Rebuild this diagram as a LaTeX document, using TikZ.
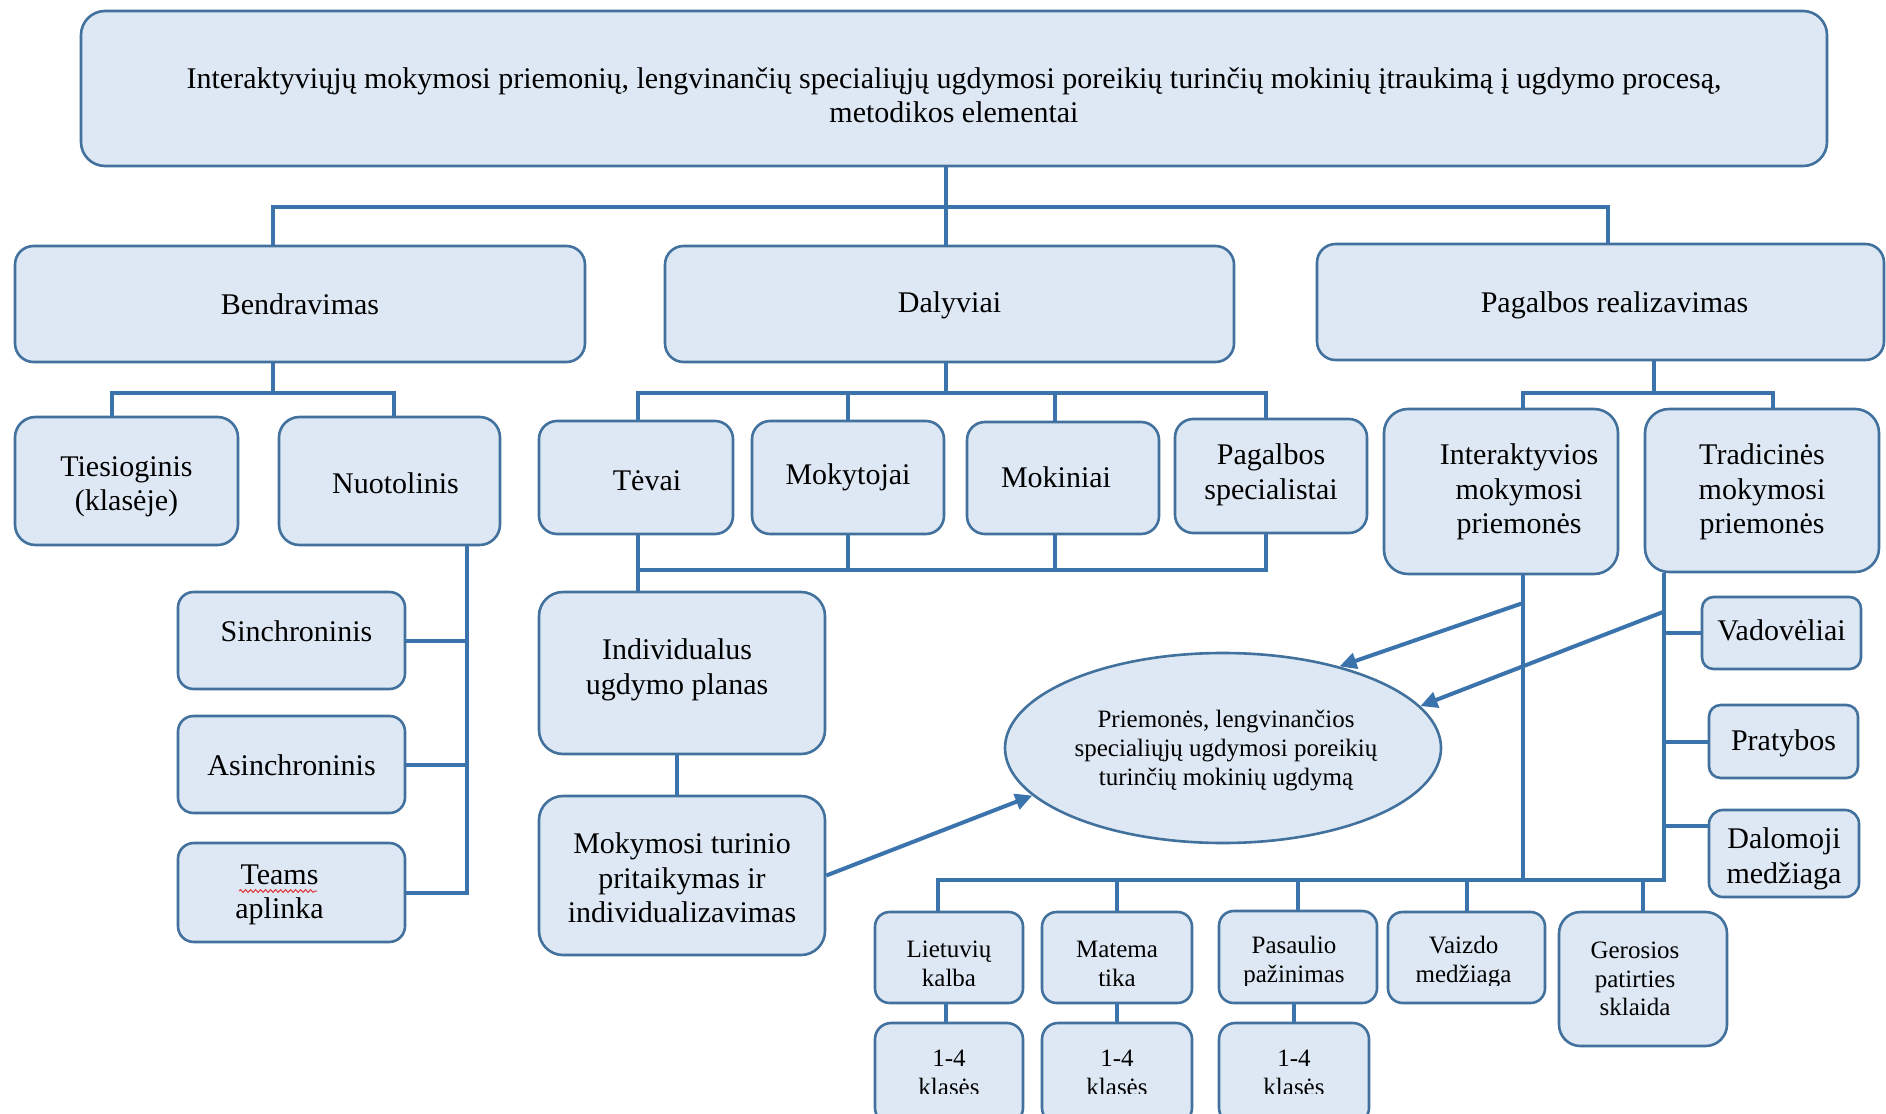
\documentclass[tikz,border=0pt]{standalone}
\usepackage{fontspec}
\setmainfont{Liberation Serif}
\usetikzlibrary{arrows.meta,decorations.pathmorphing,shapes.geometric}

\definecolor{boxfill}{HTML}{DDE8F4}
\definecolor{boxline}{HTML}{41719C}
\definecolor{linkblue}{HTML}{3B73AD}
\definecolor{spellred}{HTML}{E2373C}

% rounded box: #1 text style, #2 name, #3-#6 corners (x1,y1,x2,y2), #7 text y, #8 text
\newcommand\mkbox[8]{%
  \pgfmathsetmacro\bxw{#5-#3}%
  \pgfmathsetmacro\bxh{#6-#4}%
  \pgfmathsetmacro\bxr{min(0.16*min(\bxw,\bxh),24)}%
  \node[boxshape,minimum width=\bxw pt,minimum height=\bxh pt,rounded corners=\bxr pt]
    (#2) at ({(#3+#5)/2},{(#4+#6)/2}) {};%
  \node[#1] (#2-t) at ({(#3+#5)/2},#7) {#8};}

% same box, text cut off below the line y = #9
\newcommand\mkclipbox[9]{%
  \pgfmathsetmacro\bxw{#5-#3}%
  \pgfmathsetmacro\bxh{#6-#4}%
  \pgfmathsetmacro\bxr{min(0.16*min(\bxw,\bxh),24)}%
  \node[boxshape,minimum width=\bxw pt,minimum height=\bxh pt,rounded corners=\bxr pt]
    (#2) at ({(#3+#5)/2},{(#4+#6)/2}) {};%
  \begin{scope}
    \clip (#3,#4) rectangle (#5,#9);
    \node[#1] (#2-t) at ({(#3+#5)/2},#7) {#8};
  \end{scope}}

\tikzset{
  boxshape/.style={draw=boxline,line width=2.6pt,fill=boxfill,inner sep=0pt},
  txt/.style={align=center,inner sep=0pt,text=black,font=\fontsize{30}{34.5}\selectfont},
  smalltxt/.style={txt,font=\fontsize{25}{28.5}\selectfont},
  link/.style={draw=linkblue,line width=4pt},
  arrowlink/.style={link,-{Triangle[length=17pt,width=16pt]}},
  spell/.style={draw=spellred,line width=1pt,decorate,
    decoration={snake,amplitude=1.4pt,segment length=5pt}}
}

\begin{document}
\begin{tikzpicture}[x=1pt,y=-1pt]
\useasboundingbox (0,0) rectangle (1886,1113);
\clip (0,0) rectangle (1886,1113);
\fill[white] (0,0) rectangle (1886,1113);

% title
\mkbox{txt}{top}{81}{11}{1827}{166}{95}{Interaktyviųjų mokymosi priemonių, lengvinančių specialiųjų ugdymosi poreikių turinčių mokinių įtraukimą į ugdymo procesą,\\metodikos elementai}

% main branches
\mkbox{txt}{bend}{15}{246}{585}{362}{304}{Bendravimas}
\mkbox{txt}{dal}{665}{246}{1234}{362}{305}{Dalyviai}
\mkbox{txt,xshift=14pt}{prs}{1317}{244}{1884}{360}{305}{Pagalbos realizavimas}

% communication
\mkbox{txt}{tie}{15}{417}{238}{545}{487}{Tiesioginis\\(klasėje)}
\mkbox{txt,xshift=6pt}{nuo}{279}{417}{500}{545}{483}{Nuotolinis}
\mkbox{txt,xshift=5pt}{sin}{178}{592}{405}{689}{631}{Sinchroninis}
\mkbox{txt}{asin}{178}{716}{405}{813}{765}{Asinchroninis}
\mkbox{txt,xshift=-12pt}{teams}{178}{843}{405}{942}{895}{Teams\\aplinka}
\draw[spell] (239,891) -- (317,891);

% participants
\mkbox{txt,xshift=11pt}{tev}{539}{421}{733}{534}{481}{Tėvai}
\mkbox{txt}{mkt}{752}{421}{944}{534}{477}{Mokytojai}
\mkbox{txt,xshift=-7pt}{mki}{967}{422}{1159}{534}{477}{Mokiniai}
\mkbox{txt}{psp}{1175}{419}{1367}{533}{475}{Pagalbos\\specialistai}
\mkbox{txt,xshift=-5pt}{ind}{539}{592}{825}{754}{670}{Individualus\\ugdymo planas}
\mkbox{txt}{mtp}{539}{796}{825}{955}{878}{Mokymosi turinio\\pritaikymas ir\\individualizavimas}

% support
\mkbox{txt,xshift=18pt}{int}{1384}{409}{1618}{574}{492}{Interaktyvios\\mokymosi\\priemonės}
\mkbox{txt}{tra}{1645}{409}{1879}{572}{492}{Tradicinės\\mokymosi\\priemonės}
\mkbox{txt}{vad}{1702}{597}{1861}{669}{630}{Vadovėliai}
\mkbox{txt}{pra}{1709}{705}{1858}{778}{743}{Pratybos}
\mkbox{txt}{dmz}{1709}{810}{1859}{897}{859}{Dalomoji\\medžiaga}

% central goal
\node[boxshape,ellipse,minimum width=436pt,minimum height=190pt] (ell) at (1223,748) {};
\node[smalltxt,font=\fontsize{25}{29}\selectfont] (ell-t) at (1226,750)
  {Priemonės, lengvinančios\\specialiųjų ugdymosi poreikių\\turinčių mokinių ugdymą};

% subjects
\mkclipbox{smalltxt}{lk}{875}{912}{1023}{1003}{964}{Lietuvių\\kalba}{985}
\mkclipbox{smalltxt}{mat}{1042}{912}{1192}{1003}{964}{Matema\\tika}{985}
\mkclipbox{smalltxt,xshift=-4pt}{pas}{1219}{911}{1377}{1003}{962}{Pasaulio\\pažinimas}{985}
\mkclipbox{smalltxt,xshift=-3pt}{vai}{1388}{912}{1545}{1003}{962}{Vaizdo\\medžiaga}{985}
\mkbox{smalltxt,xshift=-8pt}{ger}{1559}{912}{1727}{1046}{979}{Gerosios\\patirties\\sklaida}
\mkclipbox{smalltxt}{k1}{875}{1023}{1023}{1124}{1073}{1-4\\klasės}{1093}
\mkclipbox{smalltxt}{k2}{1042}{1023}{1192}{1124}{1073}{1-4\\klasės}{1093}
\mkclipbox{smalltxt}{k3}{1219}{1023}{1369}{1124}{1073}{1-4\\klasės}{1093}

% ---- connectors ----
\coordinate (j1) at (946,207);
\coordinate (xBend) at (273,0);
\coordinate (xPrs) at (1608,0);
\draw[link] (top.south -| j1) -- (dal.north -| j1);
\draw[link] (bend.north -| xBend) |- (j1) -| (prs.north -| xPrs);

% communication tree
\coordinate (j2) at (273,393);
\coordinate (xTie) at (112,0);
\coordinate (xNuo) at (394,0);
\coordinate (xN) at (467,0);
\draw[link] (bend.south -| j2) -- (j2);
\draw[link] (tie.north -| xTie) |- (j2) -| (nuo.north -| xNuo);
\draw[link] (nuo.south -| xN) |- (teams.east);
\draw[link] (sin.east) -- (sin.east -| xN);
\draw[link] (asin.east) -- (asin.east -| xN);

% participants tree
\coordinate (j3) at (946,393);
\coordinate (xTev) at (638,0);
\coordinate (xPsp) at (1266,0);
\coordinate (xMki) at (1055,0);
\draw[link] (dal.south -| j3) -- (j3);
\draw[link] (tev.north -| xTev) |- (j3) -| (psp.north -| xPsp);
\draw[link] (mkt.north) -- (mkt.north |- j3);
\draw[link] (mki.north -| xMki) -- (j3 -| xMki);
\coordinate (j4) at (638,570);
\draw[link] (tev.south -| xTev) -- (ind.north -| xTev);
\draw[link] (j4) -| (psp.south -| xPsp);
\draw[link] (mkt.south) -- (mkt.south |- j4);
\draw[link] (mki.south -| xMki) -- (j4 -| xMki);
\coordinate (xInd) at (677,0);
\draw[link] (ind.south -| xInd) -- (mtp.north -| xInd);

% support tree
\coordinate (j5) at (1654,393);
\coordinate (xInt) at (1523,0);
\coordinate (xTra) at (1773,0);
\draw[link] (prs.south -| j5) -- (j5);
\draw[link] (int.north -| xInt) |- (j5) -| (tra.north -| xTra);
\coordinate (j6) at (1664,880);
\coordinate (xLk) at (938,0);
\draw[link] (tra.south -| j6) -- (j6) -| (lk.north -| xLk);
\draw[link] (int.south -| xInt) -- (j6 -| xInt);
\draw[link] (mat.north) -- (mat.north |- j6);
\draw[link] (pas.north) -- (pas.north |- j6);
\draw[link] (vai.north) -- (vai.north |- j6);
\draw[link] (ger.north) -- (ger.north |- j6);
\coordinate (xK1) at (946,0);
\draw[link] (lk.south -| xK1) -- (k1.north -| xK1);
\draw[link] (mat.south) -- (k2.north);
\draw[link] (k3.north) -- (k3.north |- pas.south);
\draw[link] (vad.west) -- (vad.west -| j6);
\draw[link] (pra.west) -- (pra.west -| j6);
\coordinate (dmzc) at ([yshift=28pt]dmz.west);
\draw[link] (dmzc) -- (dmzc -| j6);

% arrows into the goal
\coordinate (a2) at (1523,603);
\coordinate (a3) at (1663,612);
\draw[arrowlink] (mtp.east) -- (ell.194);
\draw[arrowlink] (a2) -- (ell.35);
\draw[arrowlink] (a3) -- (ell.12);
\end{tikzpicture}
\end{document}
